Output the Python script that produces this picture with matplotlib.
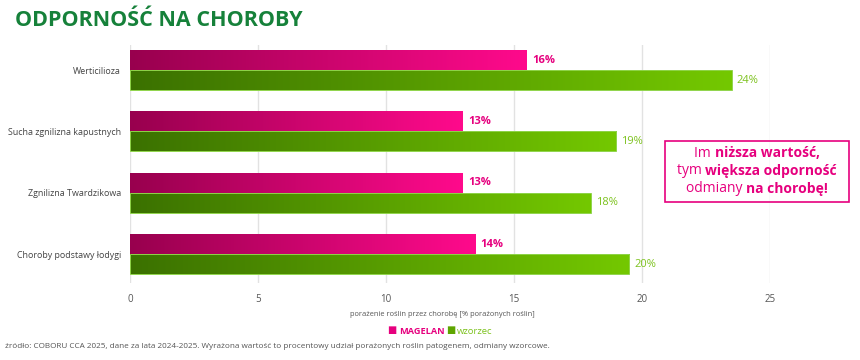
import numpy as np
import matplotlib.pyplot as plt
from matplotlib.colors import LinearSegmentedColormap
from matplotlib.patches import Rectangle

plt.rcParams['font.family'] = ['Open Sans', 'DejaVu Sans']

categories = ["Werticilioza", "Sucha zgnilizna kapustnych", "Zgnilizna Twardzikowa", "Choroby podstawy łodygi"]
magelan = [15.5, 13.0, 13.0, 13.5]
wzorzec = [23.5, 19.0, 18.0, 19.5]
magelan_labels = ["16%", "13%", "13%", "14%"]
wzorzec_labels = ["24%", "19%", "18%", "20%"]
xticks = [0, 5, 10, 15, 20, 25]

pink_cmap = LinearSegmentedColormap.from_list("pink", ["#98004e", "#ff0a8c"])
green_cmap = LinearSegmentedColormap.from_list("green", ["#3b7100", "#74c800"])
grad = np.linspace(0, 1, 256).reshape(1, -1)

fig = plt.figure(figsize=(8.6, 3.6), dpi=100)
ax = fig.add_axes([130 / 860, 1 - 283 / 360, 640 / 860, 238 / 360])

h = 0.326
for i in range(len(categories)):
    # pink bar on top, green below
    ax.imshow(grad, cmap=pink_cmap, extent=[0, magelan[i], i, i - h], aspect='auto', zorder=2)
    ax.imshow(grad, cmap=green_cmap, extent=[0, wzorzec[i], i + h, i], aspect='auto', zorder=2)
    ax.add_patch(Rectangle((0, i), wzorzec[i], h, fill=False, edgecolor="#8fd44a", lw=0.7, zorder=3))
    ax.text(magelan[i] + 0.2, i - h / 2, magelan_labels[i], color="#e6007e", fontweight='bold',
            fontsize=8, va='center', ha='left')
    ax.text(wzorzec[i] + 0.2, i + h / 2, wzorzec_labels[i], color="#7dc21e",
            fontsize=8, va='center', ha='left')

ax.set_xlim(0, 25)
ax.set_ylim(3.47, -0.41)
ax.set_xticks(xticks)
ax.set_xticklabels([str(t) for t in xticks], color="#555555", fontsize=7)
ax.set_yticks(range(len(categories)))
ax.set_yticklabels(categories, color="#444444", fontsize=6.4)
ax.tick_params(axis='y', length=0, pad=6.5)
ax.tick_params(axis='x', length=0, pad=8)
ax.grid(axis='x', color="#e2e2e2", lw=1, zorder=0)
ax.set_axisbelow(True)
for s in ax.spines.values():
    s.set_visible(False)

fig.text(442 / 860, 1 - 314 / 360, "porażenie roślin przez chorobę [% porażonych roślin]",
         ha='center', va='center', fontsize=5.4, color="#555555")

fig.text(15 / 860, 1 - 20 / 360, "ODPORNOŚĆ NA CHOROBY", fontsize=15.5, fontweight='bold',
         color="#16813a", va='center', ha='left')

fig.text(5 / 860, 1 - 346 / 360,
         "źródło: COBORU CCA 2025, dane za lata 2024-2025. Wyrażona wartość to procentowy udział porażonych roślin patogenem, odmiany wzorcowe.",
         fontsize=5.9, color="#555555", va='center', ha='left')

# legend
fig.text(392 / 860, 1 - 331 / 360, "■", fontsize=7, color="#e6007e", va='center', ha='center')
fig.text(399 / 860, 1 - 331 / 360, "MAGELAN", fontsize=6.6, color="#e6007e", fontweight='bold', va='center', ha='left')
fig.text(451 / 860, 1 - 331 / 360, "■", fontsize=7, color="#5ea500", va='center', ha='center')
fig.text(457 / 860, 1 - 331 / 360, "wzorzec", fontsize=6.8, color="#7dc21e", va='center', ha='left')

# callout box
fig.patches.append(Rectangle((665 / 860, 1 - 202 / 360), 184 / 860, 61 / 360, transform=fig.transFigure,
                             fill=False, edgecolor="#e6007e", lw=1.2))
box_lines = [
    [("Im ", 'normal'), ("niższa wartość", 'bold'), (",", 'bold')],
    [("tym ", 'normal'), ("większa odporność", 'bold')],
    [("odmiany ", 'normal'), ("na chorobę!", 'bold')],
]
box_y = [153, 171, 189]
renderer = fig.canvas.get_renderer()
for parts, yy in zip(box_lines, box_y):
    texts = []
    for s, w in parts:
        t = fig.text(0, 1 - yy / 360, s, fontsize=10, fontweight=w, color="#e6007e", va='center', ha='left')
        texts.append(t)
    widths = [t.get_window_extent(renderer).width for t in texts]
    x = 757 - sum(widths) / 2
    for t, wd in zip(texts, widths):
        t.set_x(x / 860)
        x += wd

fig.savefig("out.png", dpi=100)
